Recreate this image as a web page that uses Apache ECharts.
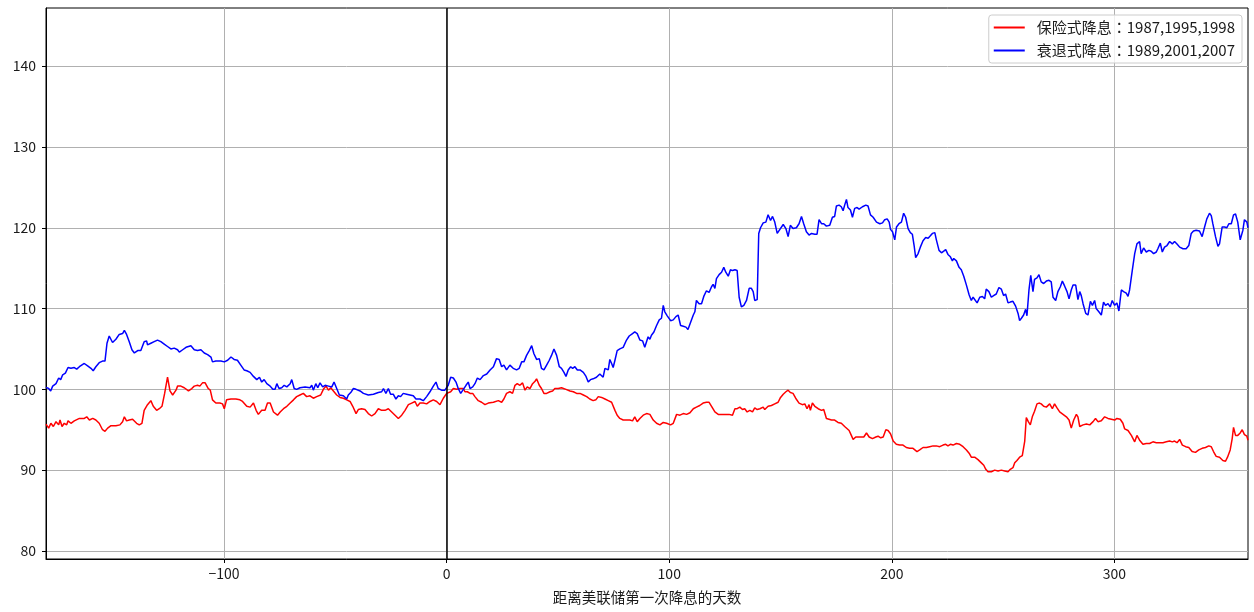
<!DOCTYPE html>
<html>
<head>
<meta charset="utf-8">
<script src="https://cdn.jsdelivr.net/npm/echarts@6/dist/echarts.min.js"></script>
<style>
html,body{margin:0;padding:0;background:#fff;}
#chart{width:1254px;height:612px;}
</style>
</head>
<body>
<div id="chart"></div>
<script>
// ---- data ----
const seriesNames = ['保险式降息：1987,1995,1998', '衰退式降息：1989,2001,2007'];
const xAxisTitle = '距离美联储第一次降息的天数';
const xTicks = [-100, 0, 100, 200, 300];
const yTicks = [80, 90, 100, 110, 120, 130, 140];
const firstCutDay = 0;

// [days from first cut, index value]
const insuranceCuts = [
[-180,95.7],[-178.8,95.2],[-177.8,95.8],[-176.7,95.4],[-175.5,96.0],[-174.3,95.6],[-173.7,96.2],[-172.8,95.4],[-171.8,95.8],[-170.7,95.6],[-170.1,96.1],[-168.8,95.8],[-167.3,96.1],[-165.0,96.4],[-162.8,96.4],[-161.7,96.6],[-160.5,96.2],[-159.0,96.4],[-157.6,96.2],[-156.1,95.8],[-154.6,95.0],[-153.5,94.8],[-152.3,95.2],[-150.8,95.5],[-148.6,95.5],[-146.8,95.6],[-145.6,96.0],[-144.8,96.6],[-143.8,96.1],[-142.6,96.2],[-141.1,96.3],[-139.3,95.8],[-138.1,95.6],[-136.9,95.8],[-135.9,97.4],[-134.4,98.1],[-132.9,98.6],[-131.8,97.9],[-130.3,97.4],[-129.1,97.6],[-127.9,97.9],[-126.7,99.5],[-125.4,101.5],[-124.3,99.8],[-123.1,99.3],[-121.6,99.9],[-120.9,100.4],[-119.4,100.4],[-117.9,100.2],[-116.0,99.8],[-114.5,100.1],[-113.4,100.4],[-111.9,100.5],[-110.9,100.4],[-109.7,100.8],[-108.5,100.8],[-107.1,100.1],[-106.2,99.9],[-105.2,98.7],[-103.7,98.3],[-101.9,98.3],[-100.7,98.2],[-99.9,97.6],[-98.9,98.7],[-96.9,98.8],[-94.7,98.8],[-92.9,98.7],[-91.7,98.5],
[-89.8,97.9],[-88.3,97.8],[-86.8,98.3],[-85.6,97.4],[-84.6,96.9],[-83.1,97.4],[-81.6,97.4],[-80.5,98.3],[-79.3,98.3],[-77.8,97.2],[-76.0,96.8],[-74.8,97.2],[-73.3,97.6],[-71.8,97.9],[-70.3,98.3],[-68.8,98.7],[-67.4,99.1],[-65.9,99.3],[-64.4,99.5],[-62.9,99.1],[-61.4,99.2],[-59.9,98.9],[-58.4,99.1],[-56.6,99.3],[-55.4,100.0],[-54.2,100.4],[-53.1,99.9],[-52.1,100.2],[-50.6,99.7],[-49.4,99.3],[-47.9,99.0],[-46.4,98.9],[-44.9,98.7],[-43.4,98.5],[-42.2,97.9],[-40.7,97.0],[-39.7,97.5],[-38.2,97.6],[-36.7,97.5],[-35.2,97.0],[-33.7,96.7],[-32.2,97.0],[-30.7,97.6],[-29.2,97.4],[-27.7,97.4],[-26.2,97.6],[-24.7,97.2],[-23.2,96.8],[-21.7,96.4],[-20.2,96.8],[-18.7,97.4],[-17.2,98.1],[-15.7,98.3],[-14.2,98.5],[-13.2,97.9],[-12.0,98.3],[-10.5,98.3],[-9.0,98.2],[-7.5,98.5],[-6.0,98.7],[-4.5,98.5],[-3.0,98.1],[-1.5,98.9],
[0,99.5],[0.7,99.3],[1.8,99.7],[3.0,100.1],[4.5,100.0],[6.0,100.1],[7.5,100.1],[8.2,99.7],[9.3,99.7],[10.5,99.5],[11.7,99.5],[12.7,99.1],[14.2,98.6],[15.7,98.4],[17.2,98.1],[18.7,98.3],[21.0,98.4],[23.2,98.6],[24.7,98.4],[25.7,98.8],[26.9,99.5],[28.4,99.7],[29.6,99.5],[30.7,100.5],[31.7,100.7],[32.9,100.5],[34.1,100.8],[35.2,99.9],[36.2,100.3],[37.4,100.1],[38.6,100.7],[39.7,101.0],[40.4,101.3],[41.6,100.5],[42.6,100.1],[43.7,99.5],[44.9,99.5],[46.4,99.7],[47.6,99.8],[48.6,100.1],[50.1,100.1],[51.6,100.2],[52.4,100.4],[53.6,100.0],[55.4,99.8],[56.9,99.7],[58.4,99.5],[59.9,99.5],[61.4,99.3],[62.9,99.1],[64.3,98.8],[65.8,98.6],[67.0,98.7],[68.1,99.1],[69.6,99.0],[71.1,98.8],[72.6,98.6],[74.1,98.4],[75.6,97.4],[76.6,96.8],[77.8,96.4],[79.3,96.2],[80.8,96.2],[82.3,96.2],[83.5,96.1],[84.5,96.6],[85.6,96.0],[86.8,96.4],[88.3,96.8],
[89.8,97.0],[91.3,96.9],[92.8,96.2],[94.3,95.8],[95.8,95.6],[97.3,95.9],[98.8,95.8],[100.6,95.6],[101.8,95.8],[103.3,96.9],[104.8,96.8],[106.3,97.0],[107.8,96.9],[109.3,97.1],[110.8,97.6],[112.2,97.8],[113.7,98.0],[115.2,98.3],[116.7,98.4],[117.9,98.4],[119.0,97.9],[120.5,97.2],[122.0,96.9],[123.5,96.9],[125.0,96.9],[126.9,96.9],[128.4,96.8],[129.5,97.6],[130.5,97.6],[131.7,97.8],[132.9,97.5],[133.9,97.6],[135.0,97.2],[136.2,97.4],[137.4,97.2],[138.4,97.7],[139.5,97.5],[140.7,97.6],[142.2,97.8],[142.9,97.5],[144.4,97.9],[145.9,98.0],[147.4,98.2],[148.9,98.4],[150.0,99.0],[151.2,99.4],[152.4,99.7],[153.4,99.9],[154.4,99.6],[155.6,99.5],[156.8,98.9],[158.3,98.3],[159.8,98.1],[160.9,98.2],[161.9,97.6],[162.8,98.1],[163.4,97.4],[164.3,98.3],[165.4,97.9],[166.9,97.6],[168.4,97.4],[169.4,97.5],[170.6,96.4],[171.8,96.3],[172.9,96.2],[174.3,96.2],[175.8,95.9],[177.3,95.8],[178.8,95.4],
[179.6,95.3],[180.8,94.9],[181.8,94.3],[182.6,93.8],[183.8,94.1],[185.6,94.1],[187.4,94.1],[188.6,94.6],[189.8,94.1],[191.3,93.9],[192.8,94.1],[193.8,94.2],[195.0,94.0],[196.1,94.1],[197.3,95.0],[198.3,94.9],[199.4,94.5],[200.6,93.6],[202.0,93.2],[203.5,93.1],[205.0,93.1],[206.5,92.8],[208.0,92.7],[209.5,92.7],[211.3,92.3],[212.5,92.5],[214.0,92.8],[215.5,92.8],[217.0,92.9],[218.5,93.0],[220.0,93.0],[221.5,92.9],[223.0,93.1],[224.2,93.2],[225.2,93.0],[226.3,93.2],[227.5,93.1],[229.0,93.3],[230.5,93.2],[232.0,92.9],[233.5,92.5],[234.7,92.1],[235.7,91.6],[237.2,91.6],[238.7,91.3],[240.2,90.9],[241.3,90.6],[242.2,90.1],[243.2,89.8],[244.7,89.8],[246.2,90.0],[247.7,89.9],[249.2,90.0],[250.7,89.9],[252.2,89.8],[253.2,90.1],[254.4,90.3],[255.2,90.9],[256.2,91.2],[257.4,91.6],[258.6,91.8],[259.7,93.6],[260.4,96.5],[261.3,96.0],[262.2,95.6],[263.1,96.6],[264.1,97.3],[265.2,98.2],[266.1,98.3],[267.1,98.2],[268.2,97.9],
[269.4,97.8],[270.9,98.2],[272.1,97.6],[273.1,98.2],[274.2,97.7],[275.4,97.2],[276.9,96.9],[278.4,96.6],[279.6,96.2],[280.6,95.2],[281.7,96.2],[282.9,96.9],[283.6,96.6],[284.4,95.4],[285.9,95.6],[287.4,95.7],[288.9,95.6],[290.4,96.0],[291.5,96.4],[292.6,96.0],[294.1,96.1],[295.6,96.6],[297.1,96.4],[298.6,96.3],[300.1,96.2],[301.1,96.4],[302.6,96.3],[303.8,95.8],[304.6,95.1],[306.1,94.9],[307.6,94.3],[309.1,93.5],[310.1,94.3],[311.3,93.7],[312.8,93.2],[314.3,93.3],[315.8,93.3],[317.3,93.5],[318.8,93.4],[320.3,93.4],[321.8,93.4],[323.3,93.5],[324.8,93.6],[326.0,93.5],[327.0,93.6],[328.1,93.4],[329.3,93.8],[330.5,93.1],[332.0,92.9],[333.4,92.8],[334.9,92.3],[336.4,92.2],[337.9,92.5],[339.4,92.7],[340.9,92.8],[342.4,93.0],[343.5,92.9],[344.5,92.3],[345.7,91.7],[347.2,91.6],[348.7,91.2],[349.9,91.1],[350.8,91.6],[352.0,92.5],[352.9,93.9],[353.5,95.3],[354.4,94.3],[355.4,94.3],[356.5,94.6],[357.4,95.0],[358.4,94.4],[359.5,94.2],[360,93.7]
];

const recessionCuts = [
[-180,100.25],[-178.8,100.1],[-177.9,99.8],[-177,100.4],[-175.5,100.7],[-174.3,101.4],[-173.4,101.2],[-172.5,101.8],[-171.3,102.0],[-170.1,102.7],[-168.8,102.6],[-167.3,102.7],[-166.2,102.5],[-165,102.8],[-162.8,103.2],[-161.3,102.9],[-159.8,102.6],[-158.8,102.3],[-157.6,102.8],[-156.1,103.3],[-154.6,103.5],[-153.5,103.5],[-152.6,105.7],[-151.6,106.6],[-150.8,106.7],[-150.1,105.8],[-148.6,106.2],[-147.1,106.8],[-145.6,106.9],[-144.8,107.3],[-143.8,106.8],[-142.6,105.9],[-141.4,104.9],[-140.3,104.5],[-138.8,104.8],[-137.4,104.8],[-135.9,105.9],[-134.8,106.0],[-134.4,105.5],[-132.9,105.7],[-131.4,105.9],[-129.9,106.1],[-128.4,105.9],[-126.9,105.6],[-125.4,105.3],[-123.9,105.0],[-122.4,105.1],[-120.9,104.9],[-120.1,104.6],[-118.6,104.9],[-117.1,105.2],[-114.9,105.4],[-113.4,104.9],[-111.9,104.8],[-110.4,104.9],[-108.9,104.5],[-107.4,104.3],[-105.9,104.0],[-105.2,103.4],[-103.7,103.5],[-101.4,103.5],[-99.9,103.4],[-98.4,103.6],[-96.9,104.0],[-95.5,103.7],[-94,103.6],[-92.5,103.0],[-91,102.4],
[-89.8,102.3],[-88.3,102.1],[-86.8,101.6],[-85.3,101.2],[-84.1,101.5],[-83.1,100.9],[-82.0,101.2],[-80.8,100.7],[-79.3,100.4],[-78.1,100.0],[-77.1,100.0],[-76.3,100.7],[-75.3,100.1],[-74.1,100.2],[-73.0,100.5],[-71.8,100.3],[-70.3,100.7],[-69.6,101.2],[-68.5,100.1],[-67.4,100.0],[-65.9,100.2],[-63.6,100.3],[-61.4,100.2],[-60.6,100.5],[-59.9,99.9],[-58.8,100.7],[-57.9,100.2],[-56.9,100.8],[-55.7,100.3],[-54.6,100.5],[-53.1,100.4],[-51.6,100.3],[-50.6,100.9],[-49.4,100.1],[-48.2,99.3],[-46.4,99.2],[-44.9,98.8],[-44.2,99.3],[-43.1,99.6],[-41.9,100.1],[-40.7,100.0],[-38.9,99.8],[-37.4,99.5],[-35.2,99.3],[-32.9,99.4],[-30.7,99.6],[-29.2,99.7],[-28.4,100.1],[-27.3,99.5],[-26.2,100.1],[-25.2,99.4],[-24.0,99.4],[-22.8,98.8],[-21.7,99.2],[-20.7,99.1],[-19.5,99.5],[-18.0,99.4],[-16.5,99.3],[-15.0,99.2],[-13.8,98.8],[-12.0,98.8],[-10.5,98.6],[-9.0,99.1],[-7.5,99.7],[-6.0,100.4],[-4.8,100.9],[-3.8,100.1],[-2.3,99.9],[-0.8,99.9],
[0,100.1],[0.7,100.5],[1.8,101.5],[3.0,101.4],[4.2,100.9],[5.2,100.1],[6.3,99.5],[7.5,100.0],[8.7,100.5],[9.7,100.9],[10.5,100.1],[11.7,100.3],[12.7,100.7],[13.8,101.4],[15.0,101.2],[16.5,101.7],[18.0,101.9],[19.5,102.4],[21.0,102.8],[22.4,103.8],[23.6,103.7],[24.7,102.8],[25.7,103.0],[26.9,102.4],[28.4,103.0],[29.9,102.6],[31.4,102.4],[32.6,102.6],[33.7,103.4],[34.7,103.4],[35.9,104.2],[37.1,104.8],[38.2,105.4],[39.2,104.4],[40.4,103.7],[41.6,103.8],[42.6,102.6],[43.7,102.4],[44.9,103.0],[46.1,103.6],[47.1,104.2],[48.2,105.0],[49.4,104.2],[50.6,102.8],[51.6,102.6],[52.7,102.1],[53.6,101.6],[54.6,102.4],[55.7,102.8],[56.6,102.6],[57.6,102.8],[58.7,102.4],[59.9,102.4],[61.4,102.1],[62.6,101.6],[63.6,100.9],[64.6,101.2],[65.8,101.3],[67.3,101.5],[68.8,101.9],[70.3,101.5],[71.1,102.6],[71.8,102.8],[72.6,102.4],[73.3,103.7],[74.1,103.2],[74.8,102.7],[75.6,103.6],[76.6,104.8],[77.8,105.0],[79.3,105.2],[80.8,106.1],[82.0,106.6],[83.5,106.9],[84.5,107.1],[85.6,106.9],[86.8,106.1],[88.0,106.0],[89.0,105.2],
[89.8,105.0],[90.5,106.5],[91.3,106.2],[92.0,106.7],[93.1,107.1],[94.3,107.9],[95.5,108.6],[96.5,108.8],[97.3,110.4],[98.0,109.6],[99.1,109.1],[100.6,108.5],[101.8,108.6],[103.0,109.0],[104.0,109.2],[105.1,107.9],[106.3,107.8],[107.5,107.7],[108.4,107.4],[109.6,108.3],[110.8,109.2],[111.5,109.6],[112.2,111.0],[113.4,110.6],[114.5,110.6],[115.5,111.5],[116.7,112.2],[117.9,112.0],[119.0,112.7],[119.7,113.0],[120.5,112.5],[121.2,113.7],[122.4,114.2],[123.5,114.5],[124.5,115.1],[125.4,114.5],[126.5,114.0],[127.5,114.8],[128.4,114.7],[129.5,114.8],[130.5,114.7],[131.4,111.4],[132.4,110.2],[133.5,110.4],[134.7,111.0],[135.9,112.5],[136.9,112.5],[137.7,112.1],[138.4,111.0],[139.5,111.1],[140.2,119.3],[141.0,120.0],[142.2,120.6],[143.4,120.7],[144.4,121.6],[145.5,120.9],[146.4,121.4],[147.4,120.7],[148.5,119.3],[149.7,119.8],[151.2,120.4],[152.4,119.9],[153.4,118.9],[154.4,120.3],[155.6,119.9],[157.1,120.0],[158.3,120.5],[159.4,121.4],[160.4,120.5],[161.6,119.5],[162.8,119.1],[163.9,119.3],[165.4,119.2],[166.4,119.2],[167.3,121.0],[168.4,120.5],[169.4,120.5],[170.6,120.2],[172.1,120.3],[173.3,121.3],[174.3,121.4],[175.1,122.7],[176.3,122.8],[177.3,122.6],[178.1,122.1],[178.8,122.8],
[179.6,123.5],[180.3,122.5],[181.4,122.2],[182.3,121.3],[183.3,122.4],[184.4,122.5],[185.3,122.3],[186.8,122.6],[188.3,122.8],[189.3,122.7],[190.4,121.6],[191.6,121.3],[193.1,120.7],[194.6,120.5],[195.8,120.6],[196.8,121.0],[197.9,121.1],[198.8,120.7],[199.4,119.8],[200.3,119.5],[201.3,118.5],[202.1,120.1],[203.2,120.5],[204.3,120.7],[205.3,121.8],[206.2,121.3],[207.3,119.9],[208.3,119.4],[209.2,119.2],[210.0,117.8],[210.7,116.3],[211.8,116.8],[212.8,117.6],[214.0,118.4],[215.2,118.8],[216.3,118.7],[217.3,119.0],[218.2,119.3],[219.3,119.4],[220.0,118.5],[221.2,117.2],[222.3,116.9],[223.3,117.1],[224.2,117.3],[225.2,116.7],[226.3,116.4],[227.2,115.9],[227.8,116.2],[229.0,115.9],[230.2,115.1],[231.2,114.8],[232.3,114.0],[233.5,112.9],[234.7,111.7],[235.7,111.0],[236.5,111.4],[237.2,111.2],[238.3,110.7],[239.5,111.4],[240.7,111.5],[241.7,111.2],[242.4,112.4],[243.6,112.1],[244.7,111.4],[245.7,111.6],[246.9,111.8],[248.1,112.6],[249.2,112.4],[250.2,111.6],[251.1,111.8],[252.2,110.7],[253.2,110.8],[254.4,110.9],[255.6,110.3],[256.7,109.4],[257.4,108.5],[258.2,108.8],[259.2,109.2],[260.1,109.9],[260.7,109.1],[261.6,112.3],[262.4,114.1],[263.4,112.1],[264.1,113.6],[265.2,113.8],[266.1,114.2],[267.1,113.3],[268.2,113.1],
[269.4,113.4],[270.6,113.5],[271.6,113.3],[272.4,111.4],[273.6,111.0],[274.6,112.1],[275.7,112.7],[276.6,113.4],[277.6,112.8],[278.7,112.1],[279.6,111.2],[280.6,112.3],[281.4,112.9],[282.6,112.9],[283.6,111.1],[284.4,112.1],[285.1,111.6],[285.9,110.6],[287.1,109.4],[288.1,109.2],[289.2,110.9],[290.1,110.4],[291.1,111.0],[291.8,110.0],[293.0,109.6],[294.1,109.2],[295.1,110.8],[296.0,110.4],[297.1,110.6],[298.1,110.2],[299.0,111.0],[300.1,110.4],[301.1,110.7],[302.0,109.7],[303.1,112.3],[304.1,112.1],[305.3,111.9],[306.1,111.5],[306.8,112.3],[308.0,114.7],[309.1,116.8],[310.1,118.0],[311.3,118.3],[312.0,116.8],[313.1,117.5],[314.3,117.0],[315.5,117.2],[316.5,117.1],[317.6,116.8],[318.8,117.0],[319.5,117.4],[320.6,118.1],[321.5,117.0],[322.5,117.6],[323.6,117.8],[324.8,118.3],[326.0,118.0],[327.0,118.3],[328.1,118.0],[329.3,117.6],[330.8,117.4],[332.2,117.4],[333.4,117.8],[334.5,119.3],[335.5,119.6],[336.7,119.7],[338.2,119.6],[339.4,118.9],[340.5,120.1],[341.5,121.1],[342.7,121.8],[343.5,121.5],[344.2,120.5],[345.4,118.9],[346.5,117.7],[347.2,118.0],[348.4,120.1],[349.5,120.1],[350.5,120.0],[351.4,120.5],[352.5,120.5],[353.5,121.6],[354.4,121.7],[355.4,120.7],[356.5,118.5],[357.7,119.7],[358.4,121.0],[359.5,120.7],[360,120.0]
];

// ---- chart ----
const FONT = '"Noto Sans CJK SC", "Noto Sans", sans-serif';
const COLON_FONT = '"Noto Sans CJK JP", "Noto Sans CJK SC", sans-serif';
const chart = echarts.init(document.getElementById('chart'), null, {renderer: 'canvas'});
const fmtTick = v => (v < 0 ? '\u2212' + Math.abs(v) : String(v));

chart.setOption({
  animation: false,
  backgroundColor: '#ffffff',
  textStyle: {fontFamily: FONT},
  grid: {left: 46, right: 6, top: 8, bottom: 53, show: true, borderColor: '#000', borderWidth: 1, backgroundColor: 'transparent'},
  legend: {
    orient: 'vertical',
    right: 12,
    top: 15,
    itemWidth: 31,
    itemHeight: 2,
    itemGap: 6,
    icon: 'rect',
    padding: [4, 7, 4, 5],
    backgroundColor: 'rgba(255,255,255,0.8)',
    borderColor: '#cccccc',
    borderWidth: 1,
    borderRadius: 3,
    formatter: name => {
      const i = name.indexOf('：');
      return '{t|' + name.slice(0, i) + '}{c|：}{t|' + name.slice(i + 1) + '}';
    },
    textStyle: {
      fontFamily: FONT, fontSize: 15, color: '#1a1a1a', lineHeight: 17, padding: [0, 0, 0, 7],
      rich: {
        t: {fontFamily: FONT, fontSize: 15, color: '#1a1a1a', lineHeight: 17},
        c: {fontFamily: COLON_FONT, fontSize: 15, color: '#1a1a1a', lineHeight: 17}
      }
    },
    data: seriesNames
  },
  xAxis: {
    type: 'value',
    min: -180,
    max: 360,
    name: xAxisTitle,
    nameLocation: 'middle',
    nameGap: 31,
    nameTextStyle: {fontFamily: FONT, fontSize: 14.5, color: '#1a1a1a'},
    axisLine: {show: true, onZero: false, lineStyle: {color: '#000', width: 1}},
    axisTick: {show: true, inside: false, length: 4, customValues: xTicks, lineStyle: {color: '#000', width: 1}},
    axisLabel: {customValues: xTicks, formatter: fmtTick, margin: 8, fontFamily: FONT, fontSize: 14, color: '#1a1a1a'},
    splitLine: {show: true, lineStyle: {color: '#b0b0b0', width: 1}}
  },
  yAxis: {
    type: 'value',
    min: 79,
    max: 147.2,
    axisLine: {show: true, onZero: false, lineStyle: {color: '#000', width: 1}},
    axisTick: {show: true, inside: false, length: 4, customValues: yTicks, lineStyle: {color: '#000', width: 1}},
    axisLabel: {customValues: yTicks, margin: 10, fontFamily: FONT, fontSize: 14, color: '#1a1a1a'},
    splitLine: {show: true, lineStyle: {color: '#b0b0b0', width: 1}}
  },
  series: [
    {
      name: seriesNames[0],
      type: 'line',
      data: insuranceCuts,
      showSymbol: false,
      symbol: 'none',
      lineStyle: {color: '#ff0000', width: 1.5},
      itemStyle: {color: '#ff0000'},
      z: 3,
      markLine: {
        silent: true,
        symbol: ['none', 'none'],
        label: {show: false},
        lineStyle: {color: '#000', width: 1.5, type: 'solid'},
        data: [{xAxis: firstCutDay}]
      }
    },
    {
      name: seriesNames[1],
      type: 'line',
      data: recessionCuts,
      showSymbol: false,
      symbol: 'none',
      lineStyle: {color: '#0000ff', width: 1.5},
      itemStyle: {color: '#0000ff'},
      z: 3
    }
  ]
});
</script>
</body>
</html>
